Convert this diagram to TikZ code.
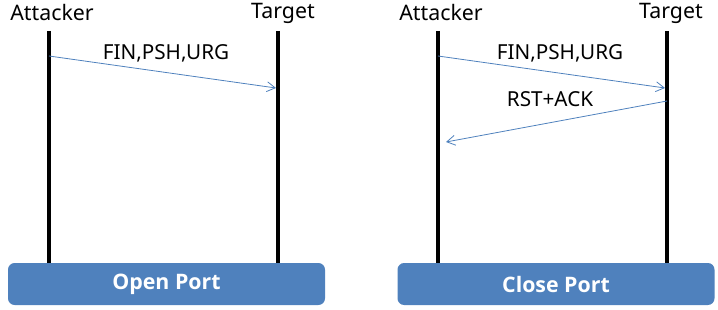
\documentclass[tikz,border=0pt]{standalone}
\usepackage{fontspec}
\setmainfont{Noto Sans}
\newfontfamily\boxfont{Open Sans}
\usetikzlibrary{arrows.meta,positioning}
\definecolor{PortBlue}{HTML}{4F81BD}
\definecolor{MsgBlue}{HTML}{4F81BD}

\begin{document}
\begin{tikzpicture}[
  x=0.75pt,y=-0.75pt,
  actor/.style={font=\fontsize{16}{19}\selectfont,inner sep=1pt},
  lifeline/.style={line width=2.4pt,black},
  msg/.style={-{Straight Barb[length=2.2mm,width=2.6mm]},MsgBlue,line width=0.6pt},
  msglabel/.style={font=\fontsize{15.5}{18}\selectfont,inner sep=1pt},
  portbox/.style={draw=none,fill=PortBlue,rounded corners=5pt,
                  minimum width=237.75pt,minimum height=31.5pt,
                  text=white,font=\boxfont\bfseries\fontsize{16}{19}\selectfont}
]
\useasboundingbox (0,0) rectangle (718,310);
% open port
\node[actor] (att1) at (52,13) {Attacker};
\node[actor] (tgt1) at (283,13) {Target};
\coordinate (att1top) at (49,31);
\coordinate (att1bot) at (49,270);
\coordinate (tgt1top) at (278,31);
\coordinate (tgt1bot) at (278,270);
\draw[lifeline] (att1top) -- (att1bot);
\draw[lifeline] (tgt1top) -- (tgt1bot);
\coordinate (fin1a) at (49,56);
\coordinate (fin1b) at (276,88);
\draw[msg] (fin1a) -- (fin1b);
\node[msglabel] (fin1) at (166,53) {FIN,PSH,URG};
\node[portbox] (open) at (166.5,284) {Open Port};
% close port
\node[actor] (att2) at (441,13) {Attacker};
\node[actor] (tgt2) at (671,13) {Target};
\coordinate (att2top) at (438,31);
\coordinate (att2bot) at (438,270);
\coordinate (tgt2top) at (667,31);
\coordinate (tgt2bot) at (667,270);
\draw[lifeline] (att2top) -- (att2bot);
\draw[lifeline] (tgt2top) -- (tgt2bot);
\coordinate (fin2a) at (438,56);
\coordinate (fin2b) at (665,88);
\draw[msg] (fin2a) -- (fin2b);
\node[msglabel] (fin2) at (560,53) {FIN,PSH,URG};
\coordinate (rst2a) at (667,101);
\coordinate (rst2b) at (446,142);
\draw[msg] (rst2a) -- (rst2b);
\node[msglabel] (rst2) at (550,99) {RST+ACK};
\node[portbox] (close) at (556,284) {Close Port};
\end{tikzpicture}
\end{document}
